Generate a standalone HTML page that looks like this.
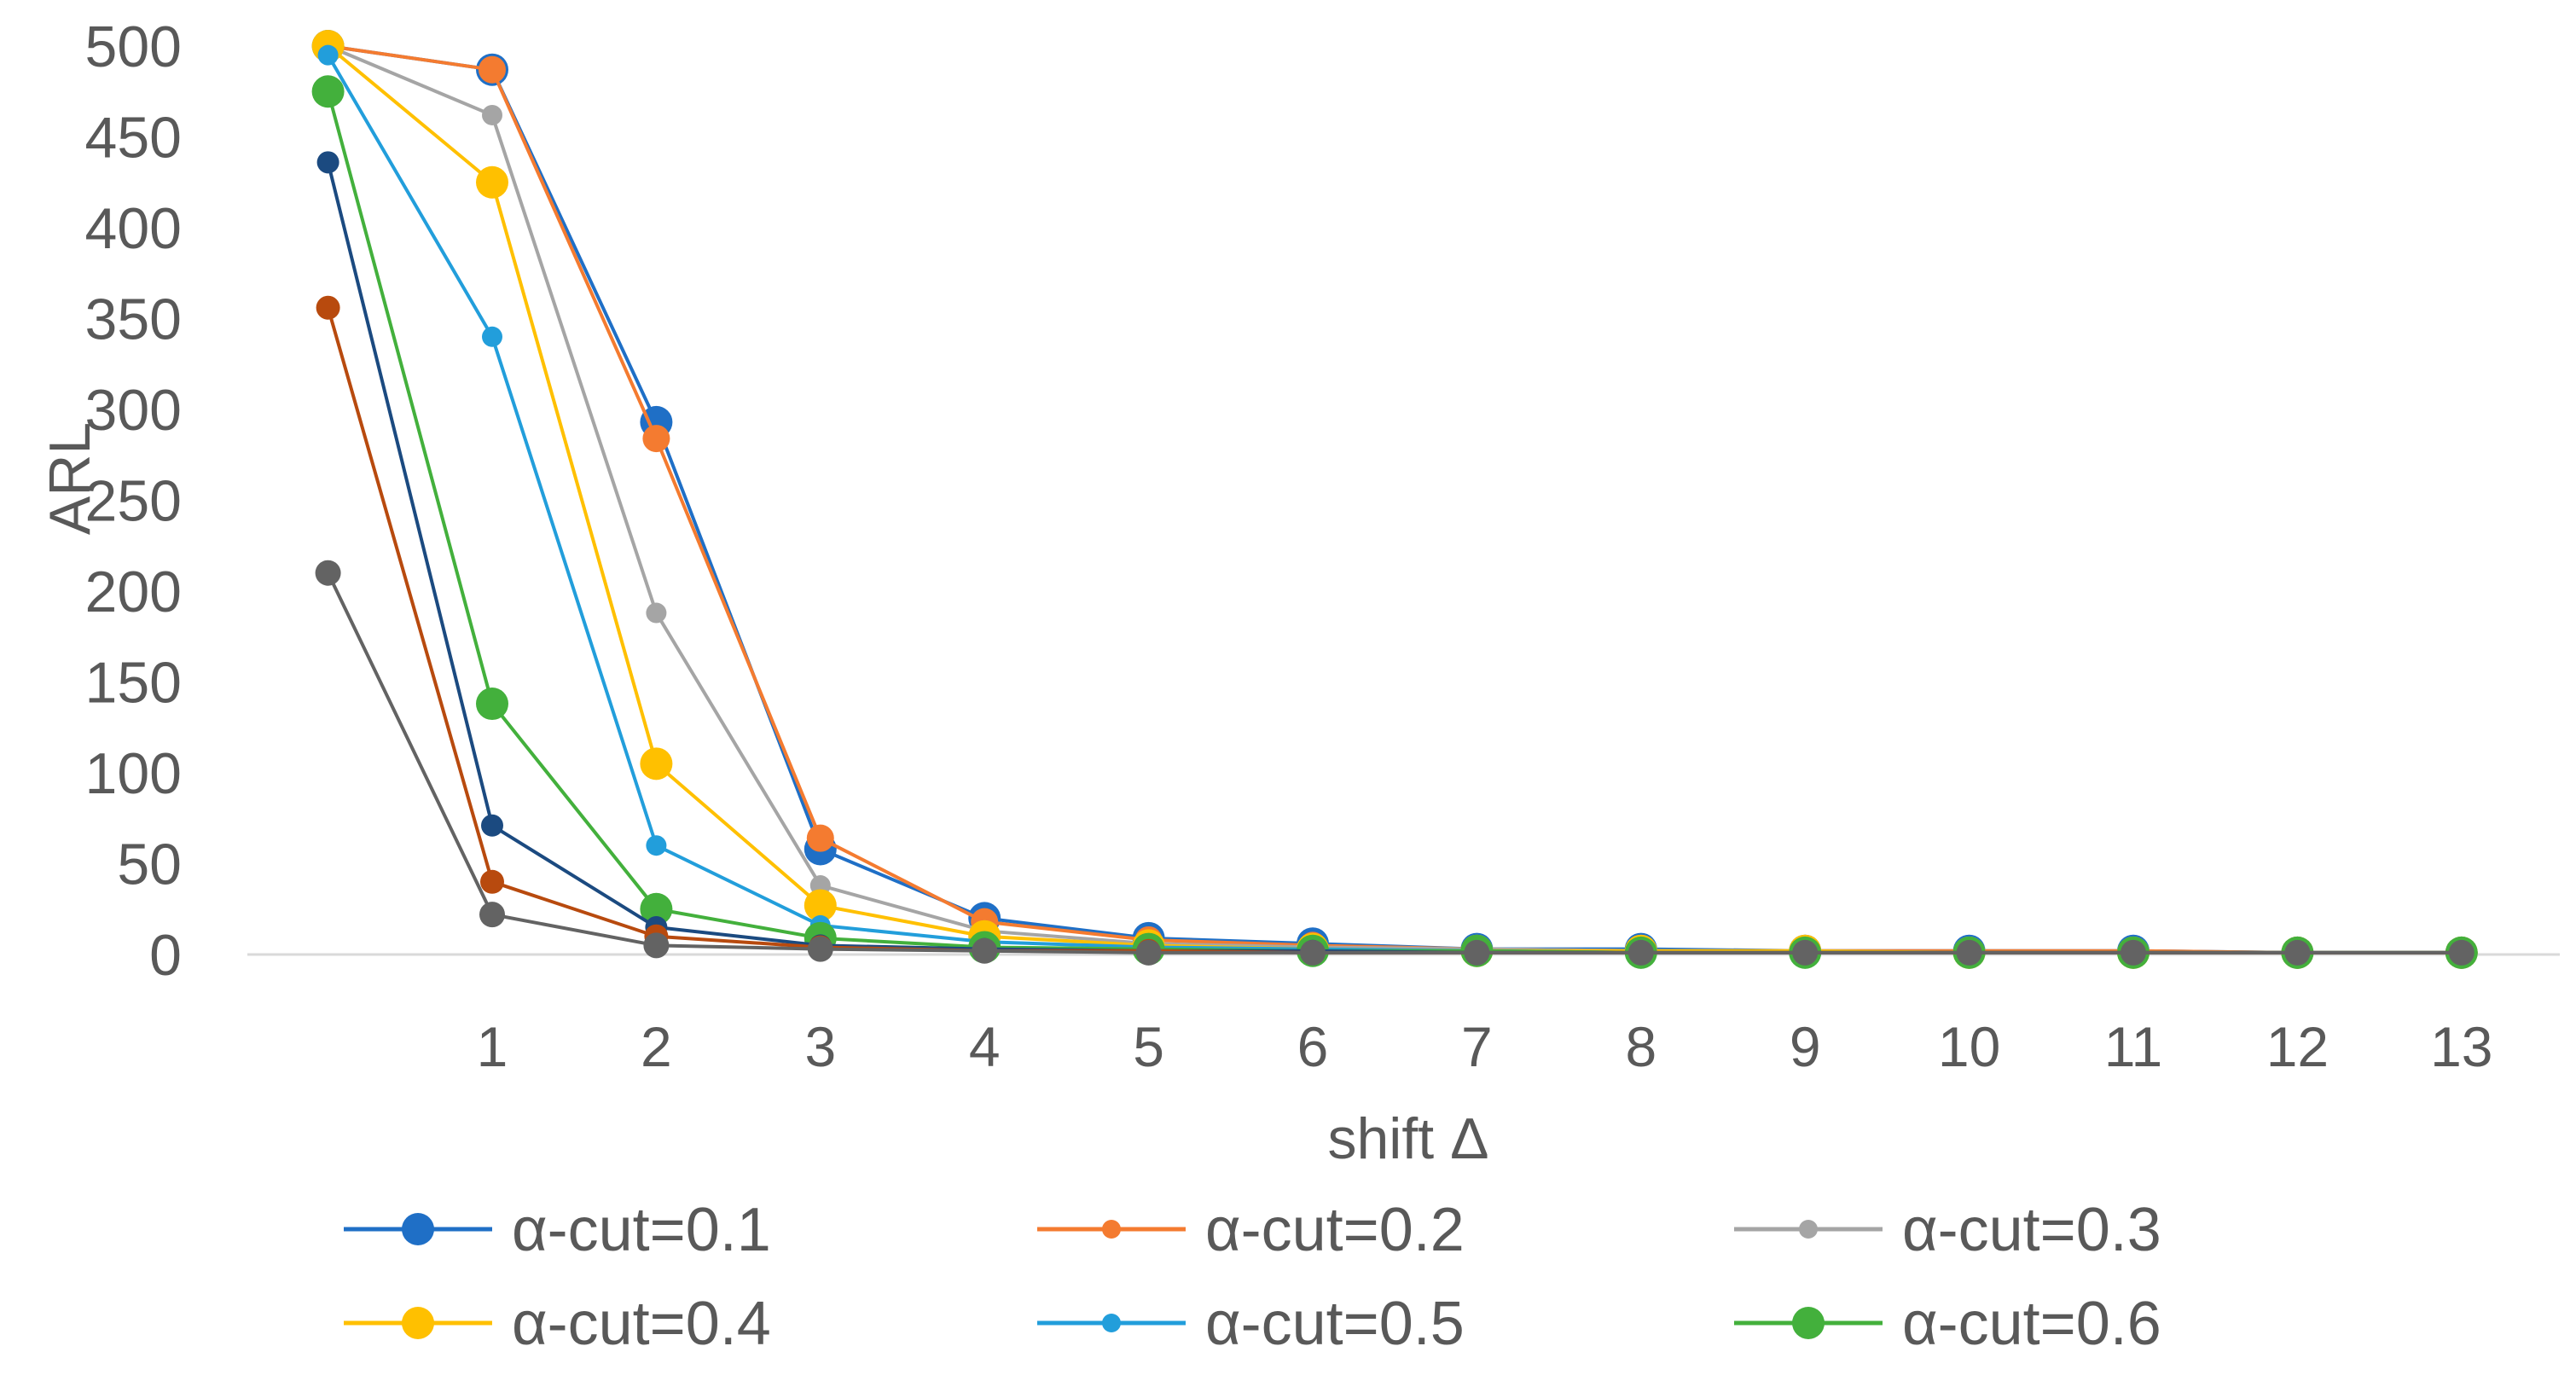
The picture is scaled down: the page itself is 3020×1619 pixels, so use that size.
<!DOCTYPE html>
<html><head><meta charset="utf-8"><style>
html,body{margin:0;padding:0;background:#fff;width:3020px;height:1619px;overflow:hidden}
svg{display:block}
text{font-family:"Liberation Sans",sans-serif;fill:#595959}
</style></head><body>
<svg id="chart" width="3020" height="1619" viewBox="0 0 3020 1619" xmlns="http://www.w3.org/2000/svg"></svg>
<script>
const categories = ["", "1","2","3","4","5","6","7","8","9","10","11","12","13"];
const yTicks = [0,50,100,150,200,250,300,350,400,450,500];
const seriesNames = ["α-cut=0.1","α-cut=0.2","α-cut=0.3","α-cut=0.4","α-cut=0.5","α-cut=0.6","α-cut=0.7","α-cut=0.8","α-cut=0.9"];
const s01 = [500,487,293,58,20,9,6,3,3,2,2,2,1,1];
const s02 = [500,487,284,64,18,8,5,3,2,2,2,2,1,1];
const s03 = [500,462,188,38,13,6,4,3,2,2,1,1,1,1];
const s04 = [500,425,105,27,10,5,3,2,2,2,1,1,1,1];
const s05 = [495,340,60,16,7,4,3,2,1,1,1,1,1,1];
const s06 = [475,138,25,9,4,3,2,2,1,1,1,1,1,1];
const s07 = [436,71,15,5,3,2,2,1,1,1,1,1,1,1];
const s08 = [356,40,10,4,2,2,1,1,1,1,1,1,1,1];
const s09 = [210,22,5,3,2,1,1,1,1,1,1,1,1,1];

const allSeries=[s01,s02,s03,s04,s05,s06,s07,s08,s09];
const colors=["#1F6FC6","#F47B30","#A5A5A5","#FFC000","#229EDB","#43B03C","#1B4A80","#B84A0E","#636363"];
const radii=[19,16,12,19,12,19,13,14,15];
const legRadii=[19,11,11,19,11,19];
const NS="http://www.w3.org/2000/svg";
const svg=document.getElementById('chart');
function el(t,a,p){const e=document.createElementNS(NS,t);for(const k in a)e.setAttribute(k,a[k]);(p||svg).appendChild(e);return e;}
const y0=1119,y500=54;
function yPos(v){return y0-(v/500)*(y0-y500);}
function xPos(i){return 384.6+i*192.4;}

const ax=el('line',{x1:290,x2:3001,y1:y0,y2:y0,stroke:'#d9d9d9','stroke-width':3});



yTicks.forEach(v=>{
  const t=el('text',{x:213,y:yPos(v)+24,'text-anchor':'end','font-size':68});
  t.textContent=v;
  
  
});
categories.forEach((c,i)=>{
  if(!c)return;
  const t=el('text',{x:xPos(i),y:1250,'text-anchor':'middle','font-size':66});
  t.textContent=c;
  
  
});
const xt=el('text',{x:1651,y:1358,'text-anchor':'middle','font-size':68});
xt.textContent='shift Δ';


const yt=el('text',{x:0,y:0,'text-anchor':'middle','font-size':68,transform:'translate(105,561) rotate(-90)'});
yt.textContent='ARL';



for(let s=0;s<allSeries.length;s++){
  const g=el('g',{});
  
  
  const d=allSeries[s];
  const pts=d.map((v,i)=>xPos(i)+','+yPos(v)).join(' ');
  const pl=el('polyline',{points:pts,fill:'none',stroke:colors[s],'stroke-width':4,'stroke-linejoin':'round'},g);
  
  
  d.forEach((v,i)=>{
    const c=el('circle',{cx:xPos(i),cy:yPos(v),r:radii[s],fill:colors[s]},g);
    
    
  });
}

const legX=[403,1216,2033], legY=[1441,1551];
for(let k=0;k<6;k++){
  const lx=legX[k%3], ly=legY[Math.floor(k/3)];
  const g=el('g',{});
  
  
  el('line',{x1:lx,x2:lx+174,y1:ly,y2:ly,stroke:colors[k],'stroke-width':5},g);
  el('circle',{cx:lx+87,cy:ly,r:legRadii[k],fill:colors[k]},g);
  const t=el('text',{x:lx+197,y:ly+25,'font-size':72},g);
  t.textContent=seriesNames[k];
}
</script>
</body></html>
